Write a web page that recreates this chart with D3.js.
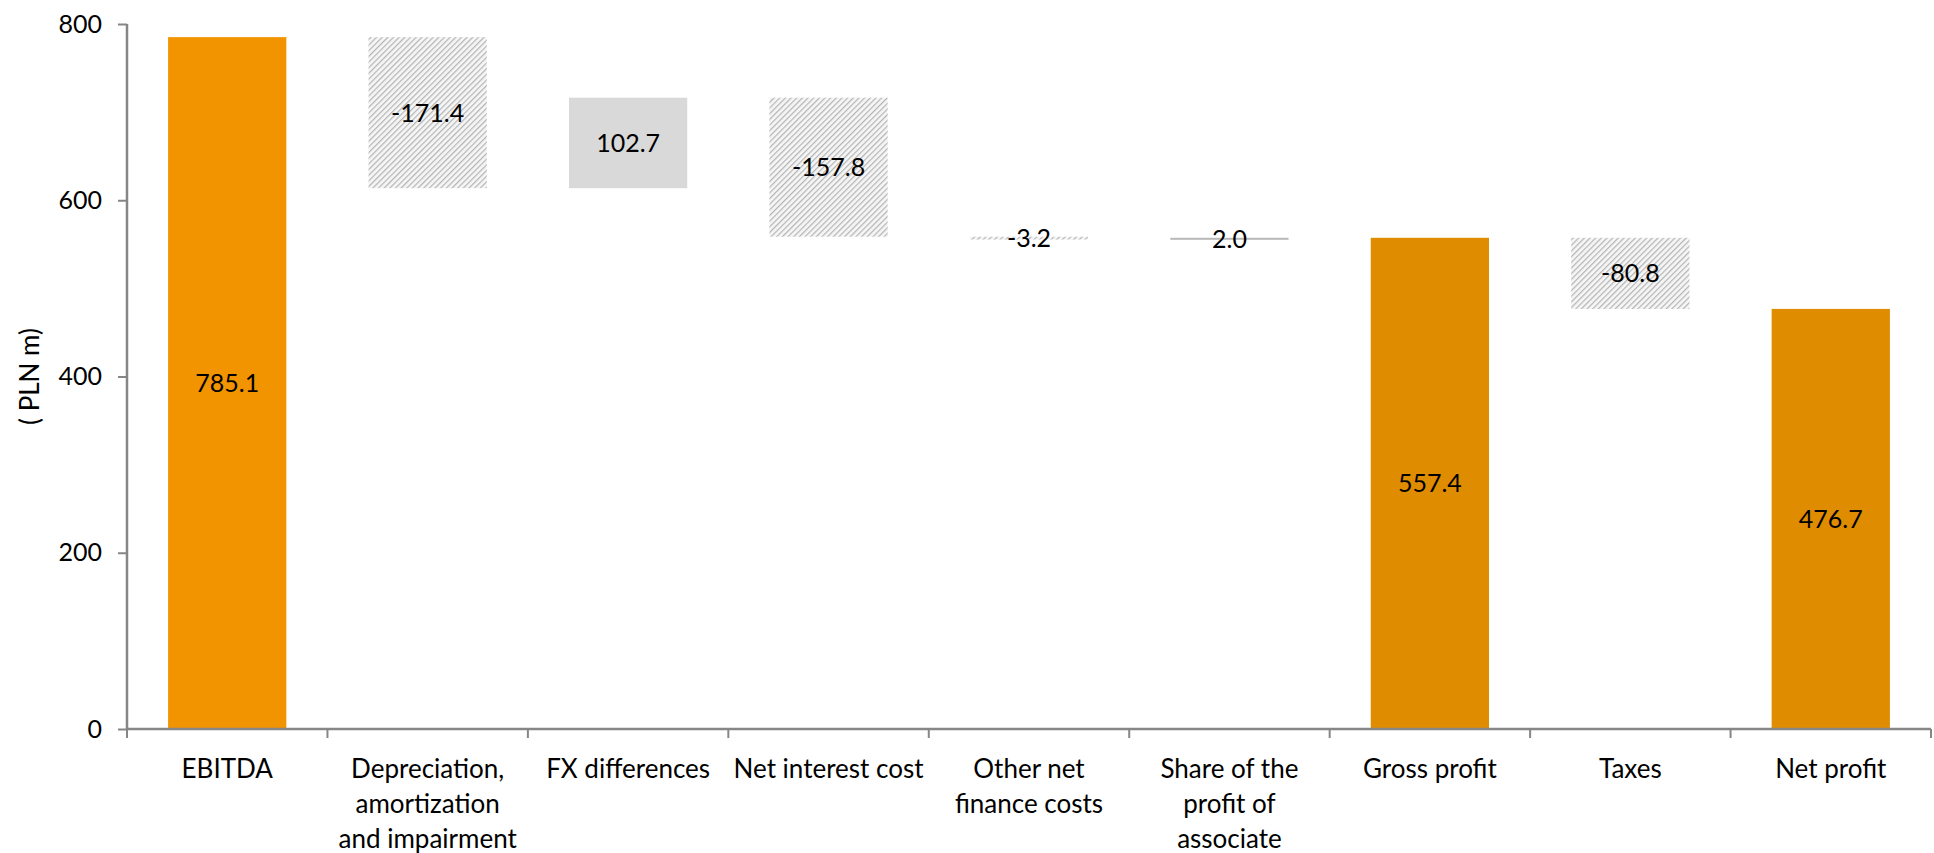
<!DOCTYPE html>
<html>
<head>
<meta charset="utf-8">
<script src="https://cdn.jsdelivr.net/npm/d3@7"></script>
<style>
  html, body { margin: 0; padding: 0; background: #fff; }
  svg { display: block; }
  text { font-family: Lato, "Open Sans", sans-serif; fill: #000; }
</style>
</head>
<body>
<svg id="chart" width="1934" height="853"></svg>
<script>
// Bridge from EBITDA to net profit (PLN m)
const categories = [
  ["EBITDA"],
  ["Depreciation,", "amortization", "and impairment"],
  ["FX differences"],
  ["Net interest cost"],
  ["Other net", "finance costs"],
  ["Share of the", "profit of", "associate"],
  ["Gross profit"],
  ["Taxes"],
  ["Net profit"]
];
const values = [785.1, -171.4, 102.7, -157.8, -3.2, 2.0, 557.4, -80.8, 476.7];
// "total" bars start at zero, "step" bars float on the running total
const kinds = ["total", "step", "step", "step", "step", "step", "total", "step", "total"];
const yTicks = [0, 200, 400, 600, 800];
const yTitle = "( PLN m)";

const svg = d3.select("#chart");
const margin = { left: 127, right: 3, top: 24, bottom: 124 };
const W = 1934, H = 853;

const x = d3.scaleBand()
  .domain(d3.range(categories.length))
  .range([margin.left, W - margin.right])
  .paddingInner(0.41)
  .paddingOuter(0.205);
const xEdges = d3.scaleLinear()
  .domain([0, categories.length])
  .range([margin.left, W - margin.right]);
const y = d3.scaleLinear().domain([0, 800]).range([H - margin.bottom, margin.top]);

// hatch pattern for decreases
const defs = svg.append("defs");
const pat = defs.append("pattern")
  .attr("id", "hatch")
  .attr("patternUnits", "userSpaceOnUse")
  .attr("width", 4).attr("height", 4)
  .attr("patternTransform", "rotate(45)");
pat.append("rect").attr("width", 4).attr("height", 4).attr("fill", "#f6f6f6");
pat.append("rect").attr("x", 0).attr("y", 0).attr("width", 1.2).attr("height", 4).attr("fill", "#b4b4b4");

// running totals
let running = 0;
const bars = values.map((v, i) => {
  let start, end;
  if (kinds[i] === "total") { start = 0; end = v; running = v; }
  else { start = running; end = running + v; running = end; }
  return { i, v, start, end, kind: kinds[i] };
});

function fillOf(d) {
  if (d.kind === "total") return d.i === 0 ? "#f29400" : "#e08c00";
  if (d.v < 0) return "url(#hatch)";
  return Math.abs(y(d.start) - y(d.end)) < 3 ? "#b8b8b8" : "#d9d9d9";
}

svg.append("g").selectAll("rect")
  .data(bars)
  .join("rect")
  .attr("x", d => x(d.i))
  .attr("width", x.bandwidth())
  .attr("y", d => y(Math.max(d.start, d.end)))
  .attr("height", d => Math.max(2, Math.abs(y(d.start) - y(d.end))))
  .attr("fill", fillOf);

// value labels in the middle of each bar, plain hyphen for negatives
const fmt = v => d3.format(".1f")(v).replace("\u2212", "-");
svg.append("g").selectAll("text")
  .data(bars)
  .join("text")
  .attr("x", d => x(d.i) + x.bandwidth() / 2)
  .attr("y", d => y((d.start + d.end) / 2))
  .attr("dy", "0.36em")
  .attr("text-anchor", "middle")
  .style("font-size", "25px")
  .text(d => fmt(d.v));

// y axis
const axisColor = "#868686";
const gy = svg.append("g").attr("transform", `translate(${margin.left},0)`)
  .call(d3.axisLeft(y).tickValues(yTicks).tickSize(9).tickPadding(16).tickFormat(d3.format("d")));
gy.select(".domain").attr("stroke", axisColor).attr("stroke-width", 2.5).attr("d", `M0,${y(800)}V${y(0)}`);
gy.selectAll(".tick line").attr("stroke", axisColor).attr("stroke-width", 2);
gy.selectAll(".tick text").style("font-size", "25px").style("font-family", "Lato, sans-serif").attr("fill", "#000");

// x axis with ticks at category boundaries
const gx = svg.append("g");
gx.append("line")
  .attr("x1", margin.left).attr("x2", W - margin.right)
  .attr("y1", y(0)).attr("y2", y(0))
  .attr("stroke", axisColor).attr("stroke-width", 2.5);
gx.selectAll("line.tk")
  .data(d3.range(categories.length + 1))
  .join("line").attr("class", "tk")
  .attr("x1", d => xEdges(d)).attr("x2", d => xEdges(d))
  .attr("y1", y(0)).attr("y2", y(0) + 9)
  .attr("stroke", axisColor).attr("stroke-width", 2);

gx.selectAll("text.cat")
  .data(categories)
  .join("text").attr("class", "cat")
  .attr("text-anchor", "middle")
  .attr("transform", (d, i) => `translate(${x(i) + x.bandwidth() / 2},${y(0) + 40})`)
  .style("font-size", "26px")
  .each(function (lines) {
    d3.select(this).selectAll("tspan")
      .data(lines)
      .join("tspan")
      .attr("x", 0)
      .attr("dy", (l, j) => j === 0 ? "0.36em" : "35px")
      .text(l => l);
  });

// y axis title
svg.append("text")
  .attr("transform", `translate(30,${(y(0) + y(800)) / 2}) rotate(-90)`)
  .attr("text-anchor", "middle")
  .attr("dy", "0.36em")
  .style("font-size", "26px")
  .text(yTitle);
</script>
</body>
</html>
